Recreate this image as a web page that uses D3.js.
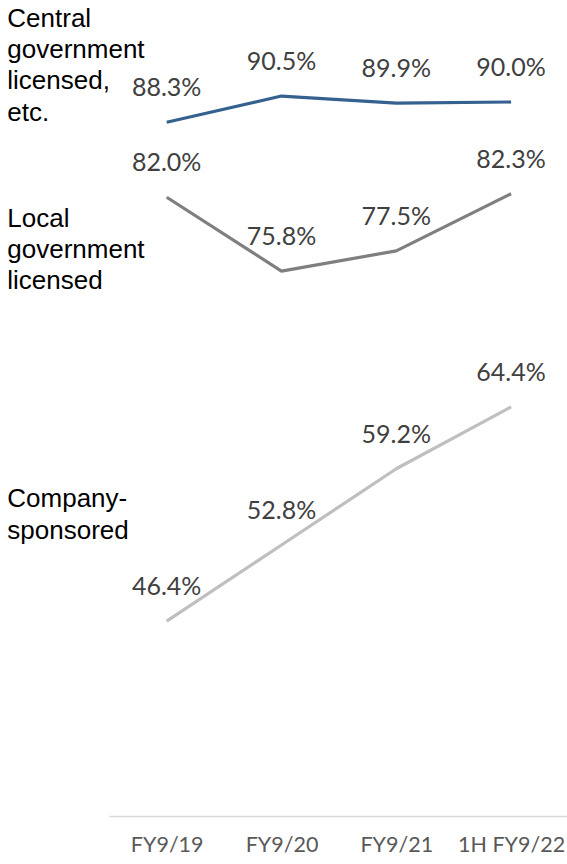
<!DOCTYPE html>
<html>
<head>
<meta charset="utf-8">
<script src="https://cdn.jsdelivr.net/npm/d3@7"></script>
<style>
  html, body { margin: 0; padding: 0; background: #fff; }
  svg { display: block; }
</style>
</head>
<body>
<div id="chart"></div>
<script>
// Share of enrollment by programme type
const categories = ["FY9/19", "FY9/20", "FY9/21", "1H FY9/22"];
const centralValues = [88.3, 90.5, 89.9, 90.0];
const localValues = [82.0, 75.8, 77.5, 82.3];
const companyValues = [46.4, 52.8, 59.2, 64.4];
const seriesNames = [
  ["Central", "government", "licensed,", "etc."],
  ["Local", "government", "licensed"],
  ["Company-", "sponsored"]
];

const W = 567, H = 864;
const svg = d3.select("#chart").append("svg")
  .attr("width", W).attr("height", H);

const x = d3.scalePoint().domain(categories).range([109.3, 568.5]).padding(0.5);
const y = d3.scaleLinear().domain([30, 90]).range([816.5, 102]);

const series = [
  { values: centralValues, color: "#35618f", name: seriesNames[0], nameY: 26.7 },
  { values: localValues, color: "#7f7f7f", name: seriesNames[1], nameY: 226.7 },
  { values: companyValues, color: "#bfbfbf", name: seriesNames[2], nameY: 507.3 }
];

// category axis: a light baseline with labels, no ticks
const xAxis = d3.axisBottom(x).tickSize(0).tickPadding(0);
const axisG = svg.append("g")
  .attr("transform", `translate(0,${y(30)})`)
  .call(xAxis);
axisG.select(".domain").remove();
axisG.append("line")
  .attr("x1", 109.3).attr("x2", 567)
  .attr("stroke", "#d9d9d9").attr("stroke-width", 1.3);
axisG.selectAll(".tick text")
  .attr("y", 35).attr("dy", 0)
  .attr("fill", "#595959")
  .style("font-family", "Lato, 'Open Sans', sans-serif")
  .style("font-size", "21.5px");

const line = d3.line()
  .x((d, i) => x(categories[i]))
  .y(d => y(d));

series.forEach(s => {
  svg.append("path")
    .datum(s.values)
    .attr("fill", "none")
    .attr("stroke", s.color)
    .attr("stroke-width", 3.2)
    .attr("stroke-linejoin", "round")
    .attr("d", line);

  svg.append("g").selectAll("text")
    .data(s.values)
    .join("text")
    .attr("x", (d, i) => x(categories[i]))
    .attr("y", d => y(d) - 26)
    .attr("text-anchor", "middle")
    .attr("fill", "#404040")
    .style("font-family", "Lato, 'Open Sans', sans-serif")
    .style("font-size", "25px")
    .text(d => d.toFixed(1) + "%");

  svg.append("text")
    .attr("x", 7.3)
    .attr("y", s.nameY)
    .attr("fill", "#000")
    .style("font-family", "'Liberation Sans', Arial, sans-serif")
    .style("font-size", "26px")
    .selectAll("tspan")
    .data(s.name)
    .join("tspan")
    .attr("x", 7.3)
    .attr("dy", (d, i) => i === 0 ? 0 : 31.3)
    .text(d => d);
});
</script>
</body>
</html>
